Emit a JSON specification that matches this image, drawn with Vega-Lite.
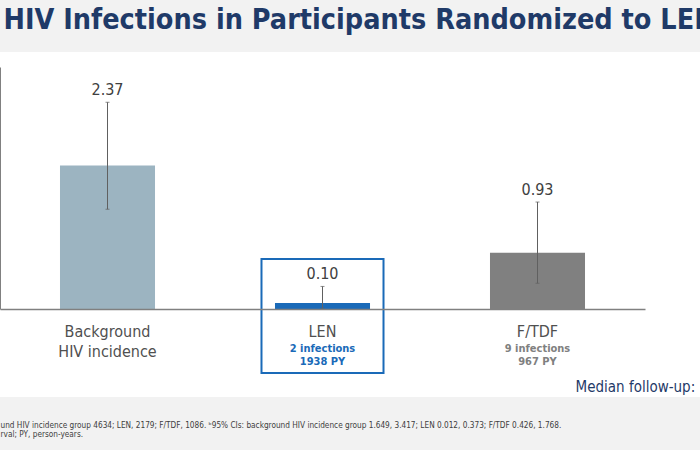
{
  "$schema": "https://vega.github.io/schema/vega-lite/v6.json",
  "autosize": {"type": "none"},
  "width": 645,
  "height": 242,
  "padding": {"top": 67, "left": 0, "right": 55, "bottom": 141},
  "background": "#ffffff",
  "config": {
    "view": {"stroke": null},
    "font": "DejaVu Sans Condensed",
    "axisY": {"domainColor": "#808080", "domainWidth": 1, "ticks": false, "labels": false, "grid": false},
    "axisX": {"domainColor": "#808080", "domainWidth": 1.5, "ticks": false, "labels": false, "grid": false}
  },
  "datasets": {
    "groups": [
      {"group": "Background", "label": "Background\nHIV incidence", "sub": "", "rate": 2.37, "lo": 1.649, "hi": 3.417},
      {"group": "LEN", "label": "LEN", "sub": "2 infections\n1938 PY", "rate": 0.10, "lo": 0.012, "hi": 0.373},
      {"group": "F/TDF", "label": "F/TDF", "sub": "9 infections\n967 PY", "rate": 0.93, "lo": 0.426, "hi": 1.768}
    ]
  },
  "layer": [
    {
      "data": {"values": [{"band": "header"}]},
      "mark": {"type": "rect", "color": "#f2f2f2", "x2Offset": 55},
      "encoding": {
        "x": {"value": 0},
        "x2": {"value": "width"},
        "y": {
          "datum": 5.107,
          "type": "quantitative",
          "scale": {"domain": [0, 4], "nice": false, "zero": false},
          "title": "HIV Infections in Participants Randomized to LEN",
          "axis": {
            "zindex": 2,
            "titleAngle": 0,
            "titleAlign": "left",
            "titleAnchor": "start",
            "titleBaseline": "alphabetic",
            "titleX": 3,
            "titleY": -39,
            "titleFont": "DejaVu Sans Condensed",
            "titleFontSize": 28.5,
            "titleFontWeight": "bold",
            "titleColor": "#1f3a68"
          }
        },
        "y2": {"datum": 4.248}
      }
    },
    {
      "data": {"values": [{"band": "footer"}]},
      "mark": {"type": "rect", "color": "#f2f2f2", "x2Offset": 55},
      "encoding": {
        "x": {"value": 0},
        "x2": {"value": "width"},
        "y": {"datum": -1.455, "type": "quantitative", "scale": {"domain": [0, 4], "nice": false, "zero": false}, "title": "HIV Infections in Participants Randomized to LEN"},
        "y2": {"datum": -2.33}
      }
    },
    {
      "data": {"name": "groups"},
      "encoding": {
        "x": {
          "field": "group",
          "type": "nominal",
          "sort": ["Background", "LEN", "F/TDF"],
          "scale": {"paddingInner": 0.558, "paddingOuter": 0.279},
          "title": [
            "und HIV incidence group 4634; LEN, 2179; F/TDF, 1086. ᵇ95% CIs: background HIV incidence group 1.649, 3.417; LEN 0.012, 0.373; F/TDF 0.426, 1.768.",
            "rval; PY, person-years."
          ],
          "axis": {
            "zindex": 2,
            "titleFont": "DejaVu Sans Condensed",
            "titleFontSize": 8.2,
            "titleFontWeight": "normal",
            "titleColor": "#404040",
            "titleAlign": "left",
            "titleAnchor": "start",
            "titleBaseline": "top",
            "titleX": 0,
            "titleY": 112.5,
            "titleLineHeight": 8.5
          }
        }
      },
      "layer": [
        {
          "transform": [{"filter": "datum.group == 'LEN'"}],
          "mark": {"type": "bar", "fillOpacity": 0, "stroke": "#1a6ab8", "strokeWidth": 2, "width": {"band": 1.284}},
          "encoding": {
            "y": {"datum": 0.826, "type": "quantitative", "scale": {"domain": [0, 4], "nice": false, "zero": false}, "title": "HIV Infections in Participants Randomized to LEN"},
            "y2": {"datum": -1.058}
          }
        },
        {
          "mark": {"type": "bar"},
          "encoding": {
            "y": {"field": "rate", "type": "quantitative", "scale": {"domain": [0, 4], "nice": false, "zero": false}, "title": "HIV Infections in Participants Randomized to LEN"},
            "color": {
              "field": "group",
              "type": "nominal",
              "scale": {"domain": ["Background", "LEN", "F/TDF"], "range": ["#9cb4c1", "#1a6ab8", "#808080"]},
              "legend": null
            }
          }
        },
        {
          "mark": {"type": "rule", "color": "#606060", "strokeWidth": 1},
          "encoding": {
            "y": {"field": "lo", "type": "quantitative", "scale": {"domain": [0, 4], "nice": false, "zero": false}, "title": "HIV Infections in Participants Randomized to LEN"},
            "y2": {"field": "hi"}
          }
        },
        {
          "mark": {"type": "tick", "color": "#606060", "size": 4, "thickness": 1},
          "encoding": {
            "y": {"field": "hi", "type": "quantitative", "scale": {"domain": [0, 4], "nice": false, "zero": false}, "title": "HIV Infections in Participants Randomized to LEN"}
          }
        },
        {
          "mark": {"type": "tick", "color": "#606060", "size": 4, "thickness": 1},
          "encoding": {
            "y": {"field": "lo", "type": "quantitative", "scale": {"domain": [0, 4], "nice": false, "zero": false}, "title": "HIV Infections in Participants Randomized to LEN"}
          }
        },
        {
          "mark": {"type": "text", "dy": -12, "fontSize": 16, "color": "#404040", "baseline": "middle", "align": "center", "font": "DejaVu Sans Condensed"},
          "encoding": {
            "y": {"field": "hi", "type": "quantitative", "scale": {"domain": [0, 4], "nice": false, "zero": false}, "title": "HIV Infections in Participants Randomized to LEN"},
            "text": {"field": "rate", "type": "quantitative", "format": ".2f"}
          }
        },
        {
          "mark": {"type": "text", "fontSize": 16, "color": "#505050", "baseline": "top", "align": "center", "lineBreak": "\n", "lineHeight": 20, "font": "DejaVu Sans Condensed"},
          "encoding": {
            "y": {"datum": -0.248, "type": "quantitative", "scale": {"domain": [0, 4], "nice": false, "zero": false}, "title": "HIV Infections in Participants Randomized to LEN"},
            "text": {"field": "label"}
          }
        },
        {
          "mark": {"type": "text", "fontSize": 11, "fontWeight": "bold", "baseline": "top", "align": "center", "lineBreak": "\n", "lineHeight": 13, "font": "DejaVu Sans Condensed"},
          "encoding": {
            "y": {"datum": -0.57, "type": "quantitative", "scale": {"domain": [0, 4], "nice": false, "zero": false}, "title": "HIV Infections in Participants Randomized to LEN"},
            "text": {"field": "sub"},
            "color": {"field": "group", "type": "nominal", "legend": null}
          }
        },
        {
          "transform": [{"filter": "datum.group == 'F/TDF'"}],
          "mark": {"type": "text", "fontSize": 15, "color": "#1f3a68", "baseline": "middle", "align": "left", "dx": 38, "font": "DejaVu Sans Condensed"},
          "encoding": {
            "y": {"datum": -1.289, "type": "quantitative", "scale": {"domain": [0, 4], "nice": false, "zero": false}, "title": "HIV Infections in Participants Randomized to LEN"},
            "text": {"value": "Median follow-up:"}
          }
        }
      ]
    }
  ]
}
